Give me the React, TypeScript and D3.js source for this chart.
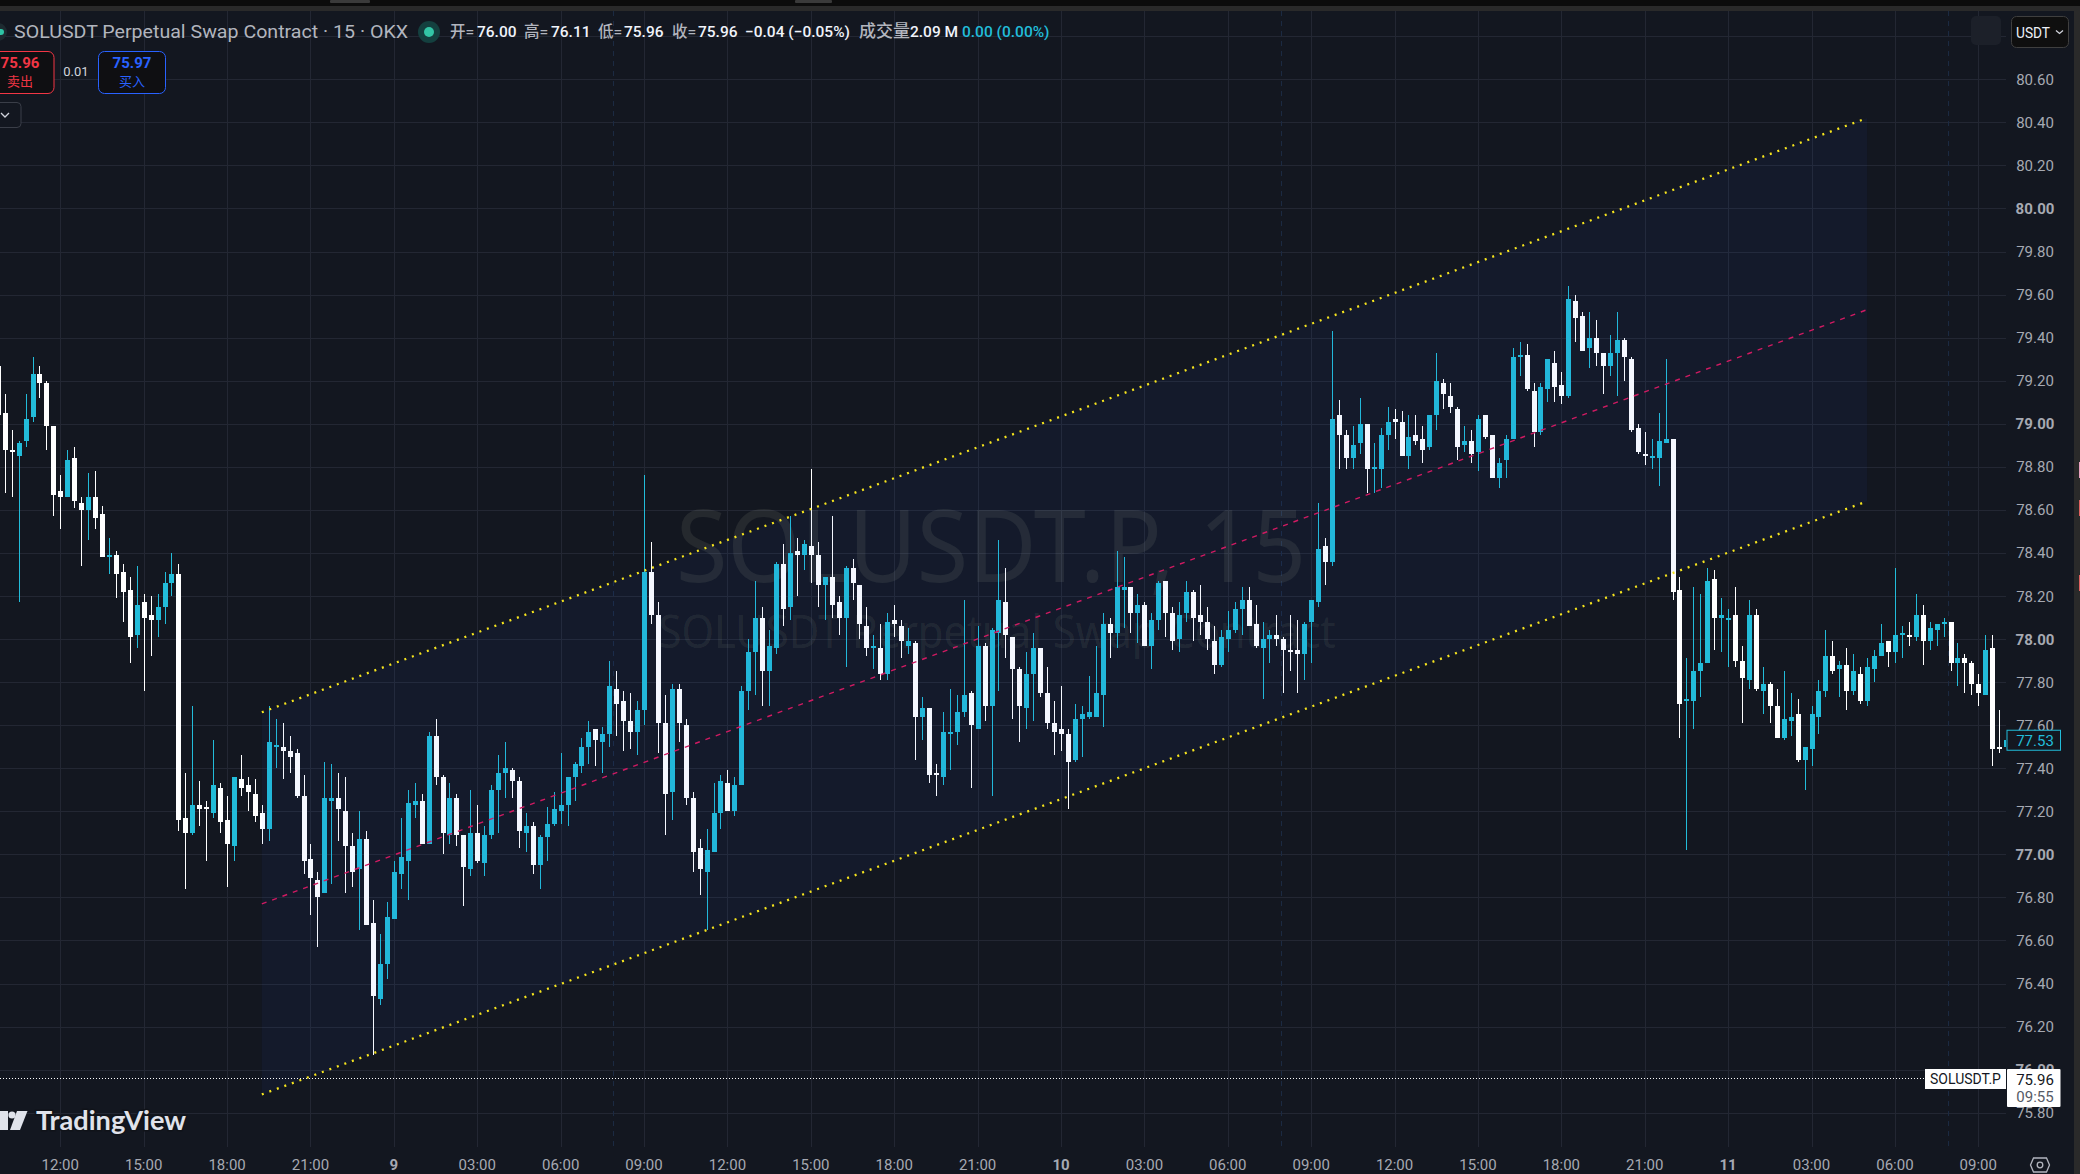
import * as d3 from "d3";

const opens = [
  79.27,79.05,78.88,78.85,78.92,79.03,79.23,79.19,78.99,78.69,
  78.66,78.84,78.63,78.60,78.66,78.58,78.38,78.39,78.31,78.23,
  78.02,78.17,78.11,78.09,78.15,78.26,78.30,77.17,77.10,77.23,
  77.22,77.19,77.31,77.16,77.04,77.35,77.32,77.28,77.19,77.12,
  77.50,77.50,77.48,77.47,77.27,76.98,76.88,76.82,77.25,77.26,
  77.20,77.04,76.93,77.07,76.68,76.33,76.49,76.70,76.91,76.97,
  77.23,77.25,77.05,77.55,77.36,77.09,77.26,77.09,76.93,77.10,
  76.96,77.09,77.30,77.38,77.39,77.34,77.10,77.13,76.95,77.08,
  77.14,77.20,77.23,77.36,77.41,77.50,77.58,77.52,77.56,77.77,
  77.71,77.62,77.57,77.67,78.31,78.11,77.61,77.29,77.77,77.60,
  77.26,77.03,76.92,77.01,77.19,77.33,77.20,77.32,77.76,77.94,
  78.10,77.85,77.96,78.35,78.15,78.41,78.39,78.43,78.39,78.25,
  78.29,78.17,78.10,78.33,78.25,78.06,77.96,77.96,77.84,78.09,
  78.06,77.97,77.98,77.64,77.68,77.38,77.36,77.56,77.57,77.66,
  77.75,77.58,77.97,77.69,78.03,78.17,78.01,77.86,77.68,77.84,
  77.96,77.75,77.61,77.58,77.56,77.44,77.63,77.64,77.64,77.74,
  78.07,78.03,78.23,78.24,78.12,78.16,77.97,78.09,78.27,78.12,
  78.00,78.12,78.22,78.11,78.08,77.99,77.88,78.00,78.04,78.14,
  78.18,78.07,77.96,78.00,78.02,78.00,77.95,77.95,77.93,78.08,
  78.17,78.43,78.36,79.04,78.95,78.84,78.91,79.00,78.79,78.79,
  78.95,79.02,79.01,78.85,78.95,78.93,78.89,79.04,79.19,79.13,
  79.07,78.90,78.92,78.87,79.04,78.95,78.75,78.83,78.93,79.31,
  79.32,79.15,78.96,79.16,79.28,79.18,79.13,79.57,79.50,79.35,
  79.40,79.33,79.27,79.33,79.39,79.30,78.98,78.86,78.84,78.84,
  78.91,78.93,78.23,77.71,77.71,77.85,77.89,78.28,78.10,78.09,
  78.11,77.90,77.81,78.11,77.76,77.79,77.69,77.54,77.62,77.65,
  77.44,77.49,77.64,77.76,77.92,77.86,77.88,77.76,77.84,77.71,
  77.86,77.92,77.99,77.94,78.02,78.02,78.01,78.11,77.99,78.04,
  78.07,78.08,77.89,77.91,77.89,77.79,77.74,77.96,77.50,77.50,
];

const closes = [
  79.04,78.88,78.87,78.91,79.02,79.23,79.19,78.99,78.67,78.66,
  78.83,78.64,78.60,78.66,78.56,78.38,78.39,78.30,78.22,78.01,
  78.16,78.10,78.09,78.15,78.26,78.30,77.16,77.10,77.23,77.21,
  77.21,77.32,77.15,77.05,77.36,77.31,77.29,77.18,77.12,77.52,
  77.51,77.48,77.45,77.27,76.97,76.89,76.80,77.26,77.26,77.21,
  77.04,76.92,77.07,76.67,76.34,76.49,76.71,76.92,76.99,77.24,
  77.25,77.05,77.55,77.36,77.10,77.26,77.09,76.94,77.10,76.97,
  77.09,77.30,77.38,77.40,77.34,77.11,77.13,76.95,77.08,77.14,
  77.21,77.23,77.36,77.42,77.50,77.57,77.53,77.56,77.78,77.70,
  77.62,77.57,77.67,78.31,78.11,77.61,77.28,77.77,77.61,77.26,
  77.01,76.93,77.02,77.19,77.34,77.20,77.32,77.76,77.94,78.10,
  77.85,77.97,78.35,78.14,78.40,78.39,78.44,78.39,78.25,78.29,
  78.16,78.10,78.33,78.26,78.07,77.96,77.97,77.84,78.08,78.07,
  77.99,77.99,77.64,77.68,77.37,77.37,77.57,77.57,77.66,77.74,
  77.60,77.97,77.69,78.04,78.18,78.02,77.86,77.69,77.84,77.96,
  77.75,77.61,77.57,77.56,77.43,77.63,77.65,77.66,77.75,78.07,
  78.03,78.24,78.24,78.12,78.16,77.97,78.09,78.26,78.12,77.99,
  78.11,78.22,78.10,78.08,78.00,77.88,78.01,78.04,78.14,78.18,
  78.06,77.97,78.00,78.02,78.00,77.95,77.94,77.93,78.07,78.18,
  78.42,78.36,79.02,78.95,78.84,78.90,79.00,78.79,78.80,78.95,
  79.01,79.01,78.85,78.94,78.92,78.88,79.04,79.20,79.14,79.08,
  78.89,78.92,78.86,79.02,78.94,78.75,78.82,78.93,79.31,79.32,
  79.16,78.96,79.17,79.30,79.17,79.13,79.58,79.49,79.34,79.40,
  79.33,79.27,79.33,79.39,79.31,78.97,78.87,78.85,78.85,78.92,
  78.93,78.22,77.70,77.72,77.85,77.89,78.27,78.10,78.11,78.10,
  77.90,77.82,78.11,77.77,77.79,77.69,77.54,77.63,77.64,77.44,
  77.50,77.65,77.76,77.92,77.85,77.88,77.76,77.85,77.71,77.87,
  77.92,77.98,77.94,78.02,78.03,78.01,78.11,77.99,78.05,78.07,
  78.08,77.89,77.91,77.89,77.79,77.75,77.95,77.49,77.49,77.53,
];

const highs = [
  79.29,79.14,78.97,78.92,79.14,79.31,79.27,79.20,78.99,78.76,
  78.88,78.89,78.66,78.77,78.78,78.62,78.47,78.41,78.35,78.29,
  78.34,78.21,78.20,78.21,78.31,78.40,78.35,77.38,77.69,77.34,
  77.25,77.53,77.33,77.27,77.36,77.46,77.36,77.35,77.23,77.69,
  77.63,77.61,77.55,77.49,77.37,77.05,76.92,77.43,77.42,77.38,
  77.36,77.10,77.20,77.11,76.79,76.63,76.78,76.97,77.17,77.30,
  77.33,77.28,77.57,77.63,77.37,77.33,77.28,77.09,77.30,77.23,
  77.13,77.32,77.46,77.52,77.40,77.36,77.19,77.15,77.09,77.22,
  77.29,77.47,77.36,77.43,77.54,77.62,77.58,77.59,77.90,77.85,
  77.76,77.75,77.71,78.76,78.45,78.17,77.74,77.79,77.79,77.63,
  77.29,77.07,77.12,77.33,77.37,77.39,77.36,77.78,78.00,78.27,
  78.15,78.04,78.36,78.44,78.57,78.47,78.46,78.79,78.45,78.29,
  78.57,78.20,78.34,78.37,78.25,78.15,78.02,78.07,78.12,78.16,
  78.09,78.05,77.99,77.73,77.68,77.42,77.66,77.77,77.74,78.18,
  77.76,78.06,77.98,78.05,78.46,78.33,78.01,77.87,77.94,78.03,
  77.96,77.87,77.71,77.78,77.58,77.70,77.69,77.83,77.97,78.12,
  78.10,78.41,78.38,78.24,78.21,78.17,78.12,78.27,78.27,78.15,
  78.17,78.27,78.23,78.25,78.15,78.06,78.04,78.13,78.17,78.24,
  78.24,78.16,78.08,78.04,78.11,78.01,78.11,78.09,78.08,78.18,
  78.63,78.47,79.43,79.11,78.97,78.99,79.12,79.00,78.91,78.98,
  79.08,79.07,79.06,79.04,79.04,78.99,79.04,79.33,79.21,79.19,
  79.08,78.99,78.97,79.04,79.04,78.95,78.84,78.95,79.35,79.38,
  79.37,79.19,79.19,79.30,79.34,79.24,79.64,79.60,79.52,79.52,
  79.48,79.33,79.41,79.52,79.40,79.31,79.00,78.96,78.93,79.05,
  79.30,78.93,78.29,77.91,78.24,78.21,78.33,78.32,78.19,78.14,
  78.24,77.97,78.18,78.14,77.87,77.80,77.77,77.85,77.75,77.72,
  77.50,77.69,77.81,78.04,77.99,77.90,77.96,77.93,77.87,77.91,
  77.95,78.07,77.99,78.33,78.06,78.08,78.21,78.16,78.08,78.07,
  78.10,78.08,77.98,77.93,77.90,77.84,78.02,78.02,77.67,77.53,
];

const lows = [
  79.04,78.68,78.66,78.17,78.89,79.01,79.12,78.88,78.57,78.51,
  78.66,78.61,78.34,78.46,78.51,78.38,78.30,78.19,78.08,77.89,
  77.96,77.76,77.92,78.01,78.07,78.20,77.11,76.84,77.09,77.13,
  76.97,77.17,77.10,76.85,76.97,77.27,77.20,77.15,77.05,77.06,
  77.40,77.35,77.38,77.26,76.91,76.72,76.57,76.82,76.86,77.06,
  76.82,76.85,76.65,76.67,76.07,76.30,76.42,76.70,76.84,76.79,
  77.17,77.05,77.05,77.32,77.00,77.05,77.04,76.76,76.90,76.96,
  76.90,77.07,77.10,77.26,77.26,77.03,77.01,76.91,76.84,76.97,
  77.13,77.14,77.13,77.25,77.38,77.42,77.41,77.38,77.50,77.55,
  77.48,77.49,77.46,77.60,78.07,77.47,77.09,77.16,77.52,77.23,
  76.92,76.81,76.65,77.01,77.12,77.20,77.18,77.32,77.67,77.74,
  77.69,77.69,77.93,78.06,78.09,78.20,78.32,78.26,78.15,78.09,
  78.10,78.02,77.87,78.18,78.00,77.92,77.86,77.81,77.81,78.01,
  77.91,77.93,77.44,77.53,77.33,77.27,77.32,77.39,77.51,77.64,
  77.31,77.58,77.62,77.27,77.76,77.91,77.63,77.52,77.58,77.62,
  77.73,77.58,77.46,77.48,77.21,77.43,77.45,77.63,77.64,77.59,
  77.91,77.96,78.05,78.03,77.98,77.97,77.86,78.04,78.01,77.95,
  77.94,78.08,77.99,78.02,77.95,77.84,77.87,77.94,78.03,78.02,
  78.06,77.96,77.72,77.89,77.97,77.75,77.85,77.75,77.81,77.89,
  78.15,78.25,78.34,78.79,78.79,78.79,78.86,78.68,78.68,78.70,
  78.88,78.93,78.85,78.79,78.90,78.82,78.88,78.97,79.07,79.05,
  78.83,78.87,78.82,78.78,78.93,78.75,78.70,78.75,78.93,79.22,
  79.15,78.89,78.95,79.10,79.10,79.09,79.12,79.38,79.34,79.26,
  79.27,79.14,79.22,79.13,79.20,78.96,78.86,78.81,78.79,78.71,
  78.91,78.18,77.54,77.02,77.58,77.73,77.89,77.95,77.94,77.87,
  77.87,77.61,77.77,77.76,77.65,77.61,77.54,77.53,77.55,77.43,
  77.30,77.41,77.56,77.73,77.84,77.73,77.67,77.74,77.70,77.69,
  77.80,77.92,77.87,77.89,77.91,77.97,77.99,77.88,77.95,77.97,
  78.01,77.85,77.78,77.75,77.74,77.69,77.74,77.41,77.47,77.50,
];

const priceTicks = [
  80.6,80.4,80.2,80.0,79.8,79.6,79.4,79.2,79.0,78.8,78.6,78.4,78.2,
  78.0,77.8,77.6,77.4,77.2,77.0,76.8,76.6,76.4,76.2,76.0,75.8,
];
const timeLabels = [
  "12:00","15:00","18:00","21:00","9","03:00","06:00","09:00",
  "12:00","15:00","18:00","21:00","10","03:00","06:00","09:00",
  "12:00","15:00","18:00","21:00","11","03:00","06:00","09:00",
];
const dayLabels = ["9", "10", "11"];
const sessionBreaks = [88.6, 184.6, 280.6];

// channel drawing: bar index and price at both ends
const channelBars = [38, 269];
const channelUpper = [77.66, 80.42];
const channelMid = [76.77, 79.53];
const channelLower = [75.885, 78.64];

const lastPrice = 75.96;
const livePrice = 77.53;

const UP = "#22bcd9";
const DOWN = "#ffffff";
const BG = "#131720";
const GRID = "#232733";
const AXIS_TEXT = "#a6a9b2";
const FONT = "Roboto, 'Noto Sans CJK SC', sans-serif";

const plotRight = 2006;
const gridBottom = 1147;

const x = d3.scaleLinear().domain([9, 285]).range([60.3, 1978.3]);
const y = d3.scaleLinear().domain([80.6, 75.8]).range([79.3, 1112.7]);

const channelLine = (prices: number[]) =>
  d3.line<number>()
    .x((_, i) => x(channelBars[i]))
    .y((d) => y(d))(prices) || "";

const channelArea =
  d3.area<number>()
    .x((_, i) => x(channelBars[i]))
    .y0((_, i) => y(channelLower[i]))
    .y1((d) => y(d))(channelUpper) || "";

const legendItems = [
  { t: "开=", px: 450, c: "#b2b5be" },
  { t: "76.00", px: 477, c: "#f0f3fa" },
  { t: "高=", px: 524, c: "#b2b5be" },
  { t: "76.11", px: 551, c: "#f0f3fa" },
  { t: "低=", px: 598, c: "#b2b5be" },
  { t: "75.96", px: 624, c: "#f0f3fa" },
  { t: "收=", px: 672, c: "#b2b5be" },
  { t: "75.96", px: 698, c: "#f0f3fa" },
  { t: "−0.04 (−0.05%)", px: 745, c: "#f0f3fa" },
  { t: "成交量", px: 859, c: "#b2b5be", size: 17 },
  { t: "2.09 M", px: 910, c: "#f0f3fa" },
  { t: "0.00 (0.00%)", px: 962, c: UP },
];

export default function App() {
  const barIndex = d3.range(opens.length);
  const gridBars = timeLabels.map((_, i) => 9 + i * 12);

  return (
    <svg
      width={2080}
      height={1174}
      style={{ position: "absolute", left: 0, top: 0, display: "block", fontFamily: FONT }}
    >
      <defs>
        <clipPath id="plot">
          <rect x={0} y={11} width={plotRight} height={gridBottom - 11} />
        </clipPath>
      </defs>
      <rect width={2080} height={1174} fill={BG} />

      {/* window chrome */}
      <rect width={2080} height={6} fill="#0c0c0c" />
      <rect y={6} width={2080} height={5} fill="#2a2a2a" />
      <rect x={330} width={40} height={3} rx={1} fill="#3a3a3a" />
      <rect x={795} width={37} height={3} rx={1} fill="#3a3a3a" />
      <rect x={2074} y={6} width={6} height={1168} fill="#2a2a2a" />
      <rect x={2079} y={462} width={1} height={16} fill="#e8a0bf" />
      <rect x={2079} y={500} width={1} height={16} fill="#e06060" />
      <rect x={2079} y={575} width={1} height={16} fill="#e06060" />

      {/* grid */}
      <g shapeRendering="crispEdges">
        {[80.8, ...priceTicks].map((p) => (
          <line key={p} x1={0} x2={plotRight} y1={Math.round(y(p))} y2={Math.round(y(p))} stroke={GRID} />
        ))}
        {gridBars.map((b) => (
          <line key={b} x1={Math.round(x(b))} x2={Math.round(x(b))} y1={11} y2={gridBottom} stroke={GRID} />
        ))}
        {sessionBreaks.map((b) => (
          <line key={b} x1={Math.round(x(b))} x2={Math.round(x(b))} y1={11} y2={gridBottom} stroke="#1b2a42" strokeDasharray="5 5" />
        ))}
      </g>

      {/* watermark */}
      <g fontFamily="'Noto Sans', sans-serif" fill="#e8e8c8" fillOpacity={0.085} textAnchor="middle">
        <text x={991} y={582} fontSize={100} textLength={630} lengthAdjust="spacingAndGlyphs">SOLUSDT.P, 15</text>
        <text x={997} y={648} fontSize={46} textLength={677} lengthAdjust="spacingAndGlyphs">SOLUSDT Perpetual Swap Contract</text>
      </g>

      {/* candles */}
      <g clipPath="url(#plot)" shapeRendering="crispEdges">
        {barIndex.map((i) => {
          const cx = Math.round(x(i));
          const color = closes[i] >= opens[i] ? UP : DOWN;
          const top = Math.round(y(Math.max(opens[i], closes[i])));
          const bottom = Math.round(y(Math.min(opens[i], closes[i])));
          return (
            <g key={i} fill={color}>
              <rect x={cx} y={y(highs[i])} width={1} height={y(lows[i]) - y(highs[i])} />
              <rect x={cx - 2} y={top} width={5} height={Math.max(1, bottom - top)} />
            </g>
          );
        })}
      </g>

      {/* channel */}
      <path d={channelArea} fill="#2962ff" fillOpacity={0.05} />
      <path d={channelLine(channelUpper)} fill="none" stroke="#f7e51e" strokeWidth={2.3} strokeDasharray="2 6" />
      <path d={channelLine(channelLower)} fill="none" stroke="#f7e51e" strokeWidth={2.3} strokeDasharray="2 6" />
      <path d={channelLine(channelMid)} fill="none" stroke="#d01a62" strokeWidth={1.4} strokeDasharray="5 6" />

      {/* last price line */}
      <line x1={0} x2={1925} y1={y(lastPrice) + 0.5} y2={y(lastPrice) + 0.5} stroke="#ffffff" strokeDasharray="1 2" shapeRendering="crispEdges" />

      {/* price axis */}
      <g fontSize={15} textAnchor="middle" fill={AXIS_TEXT}>
        {priceTicks.map((p) => (
          <text key={p} x={2035} y={y(p) + 5.5} fontWeight={Number.isInteger(p) ? 700 : 400}>
            {p.toFixed(2)}
          </text>
        ))}
      </g>

      {/* time axis */}
      <g fontSize={15} textAnchor="middle" fill={AXIS_TEXT}>
        {timeLabels.map((t, i) => (
          <text key={i} x={x(gridBars[i])} y={1170} fontWeight={dayLabels.includes(t) ? 700 : 400}>
            {t}
          </text>
        ))}
      </g>
      <g fill="none" stroke="#b2b5be" strokeWidth={1.3}>
        <path d="M2033.5 1158 L2046.5 1158 L2049.5 1165 L2046.5 1172 L2033.5 1172 L2030.5 1165 Z" />
        <circle cx={2040} cy={1165} r={2.8} />
      </g>

      {/* price labels */}
      <rect x={2007} y={y(livePrice) - 10} width={53.5} height={20} fill={BG} stroke={UP} strokeWidth={1} />
      <text x={2035} y={y(livePrice) + 5.5} fontSize={15} textAnchor="middle" fill={UP}>{livePrice.toFixed(2)}</text>
      <rect x={1925} y={1069} width={81} height={20} fill="#ffffff" />
      <text x={1965.5} y={1084} fontSize={14} textAnchor="middle" fill="#131722">SOLUSDT.P</text>
      <rect x={2007} y={1069} width={53.5} height={38} rx={1} fill="#ffffff" />
      <text x={2035} y={1085} fontSize={15} textAnchor="middle" fill="#131722">{lastPrice.toFixed(2)}</text>
      <text x={2035} y={1102} fontSize={15} textAnchor="middle" fill="#555a66">09:55</text>

      {/* TradingView logo */}
      <g fill="#e0e3eb">
        <path d="M0 1111 H8 V1130 H0 Z" />
        <circle cx={12} cy={1115} r={3.6} />
        <path d="M17 1111 H27.5 L20 1130 H10 Z" />
        <text x={36} y={1130} fontFamily="Lato, sans-serif" fontSize={26} fontWeight={700} textLength={150} lengthAdjust="spacingAndGlyphs" stroke="#101319" strokeWidth={3} paintOrder="stroke">TradingView</text>
      </g>

      {/* legend */}
      <circle cx={-2} cy={32} r={9} fill="#1d2a30" />
      <circle cx={1} cy={32} r={3} fill="#2ec4a5" />
      <text x={14} y={38} fontSize={18} fill="#b2b5be" textLength={394} lengthAdjust="spacingAndGlyphs">
        SOLUSDT Perpetual Swap Contract · 15 · OKX
      </text>
      <circle cx={429} cy={32} r={11} fill="#14403f" />
      <circle cx={429} cy={32} r={5} fill="#33c5a6" />
      <g fontSize={15.5} fontWeight={500}>
        {legendItems.map((it, i) => (
          <text key={i} x={it.px} y={37} fill={it.c} fontSize={it.size}>{it.t}</text>
        ))}
      </g>

      {/* order buttons */}
      <rect x={-6} y={51.5} width={60} height={42} rx={6} fill="#0f0f12" stroke="#f23645" />
      <text x={20} y={68} fontSize={15} fontWeight={700} textAnchor="middle" fill="#f23645">75.96</text>
      <text x={20} y={86} fontSize={13} textAnchor="middle" fill="#f23645">卖出</text>
      <text x={76} y={76} fontSize={13} textAnchor="middle" fill="#d1d4dc">0.01</text>
      <rect x={98.5} y={51.5} width={67} height={42} rx={6} fill="#0f0f12" stroke="#2962ff" />
      <text x={132} y={68} fontSize={15} fontWeight={700} textAnchor="middle" fill="#2962ff">75.97</text>
      <text x={132} y={86} fontSize={13} textAnchor="middle" fill="#2962ff">买入</text>
      <rect x={-6} y={102.5} width={27} height={25} rx={4} fill={BG} stroke="#3a3e48" />
      <path d="M1 113 L5 117 L9 113" fill="none" stroke="#d1d4dc" strokeWidth={1.3} />

      {/* currency button */}
      <rect x={1971} y={16} width={30} height={29} rx={5} fill="#1c2029" />
      <rect x={2011.5} y={16.5} width={57} height={31} rx={5} fill="#0f0f0f" stroke="#3f3f3f" />
      <text x={2016} y={37.5} fontSize={15} fill="#eef1f7" textLength={34} lengthAdjust="spacingAndGlyphs">USDT</text>
      <path d="M2056 30.5 L2059.5 33.5 L2063 30.5" fill="none" stroke="#d1d4dc" strokeWidth={1.3} />
    </svg>
  );
}
